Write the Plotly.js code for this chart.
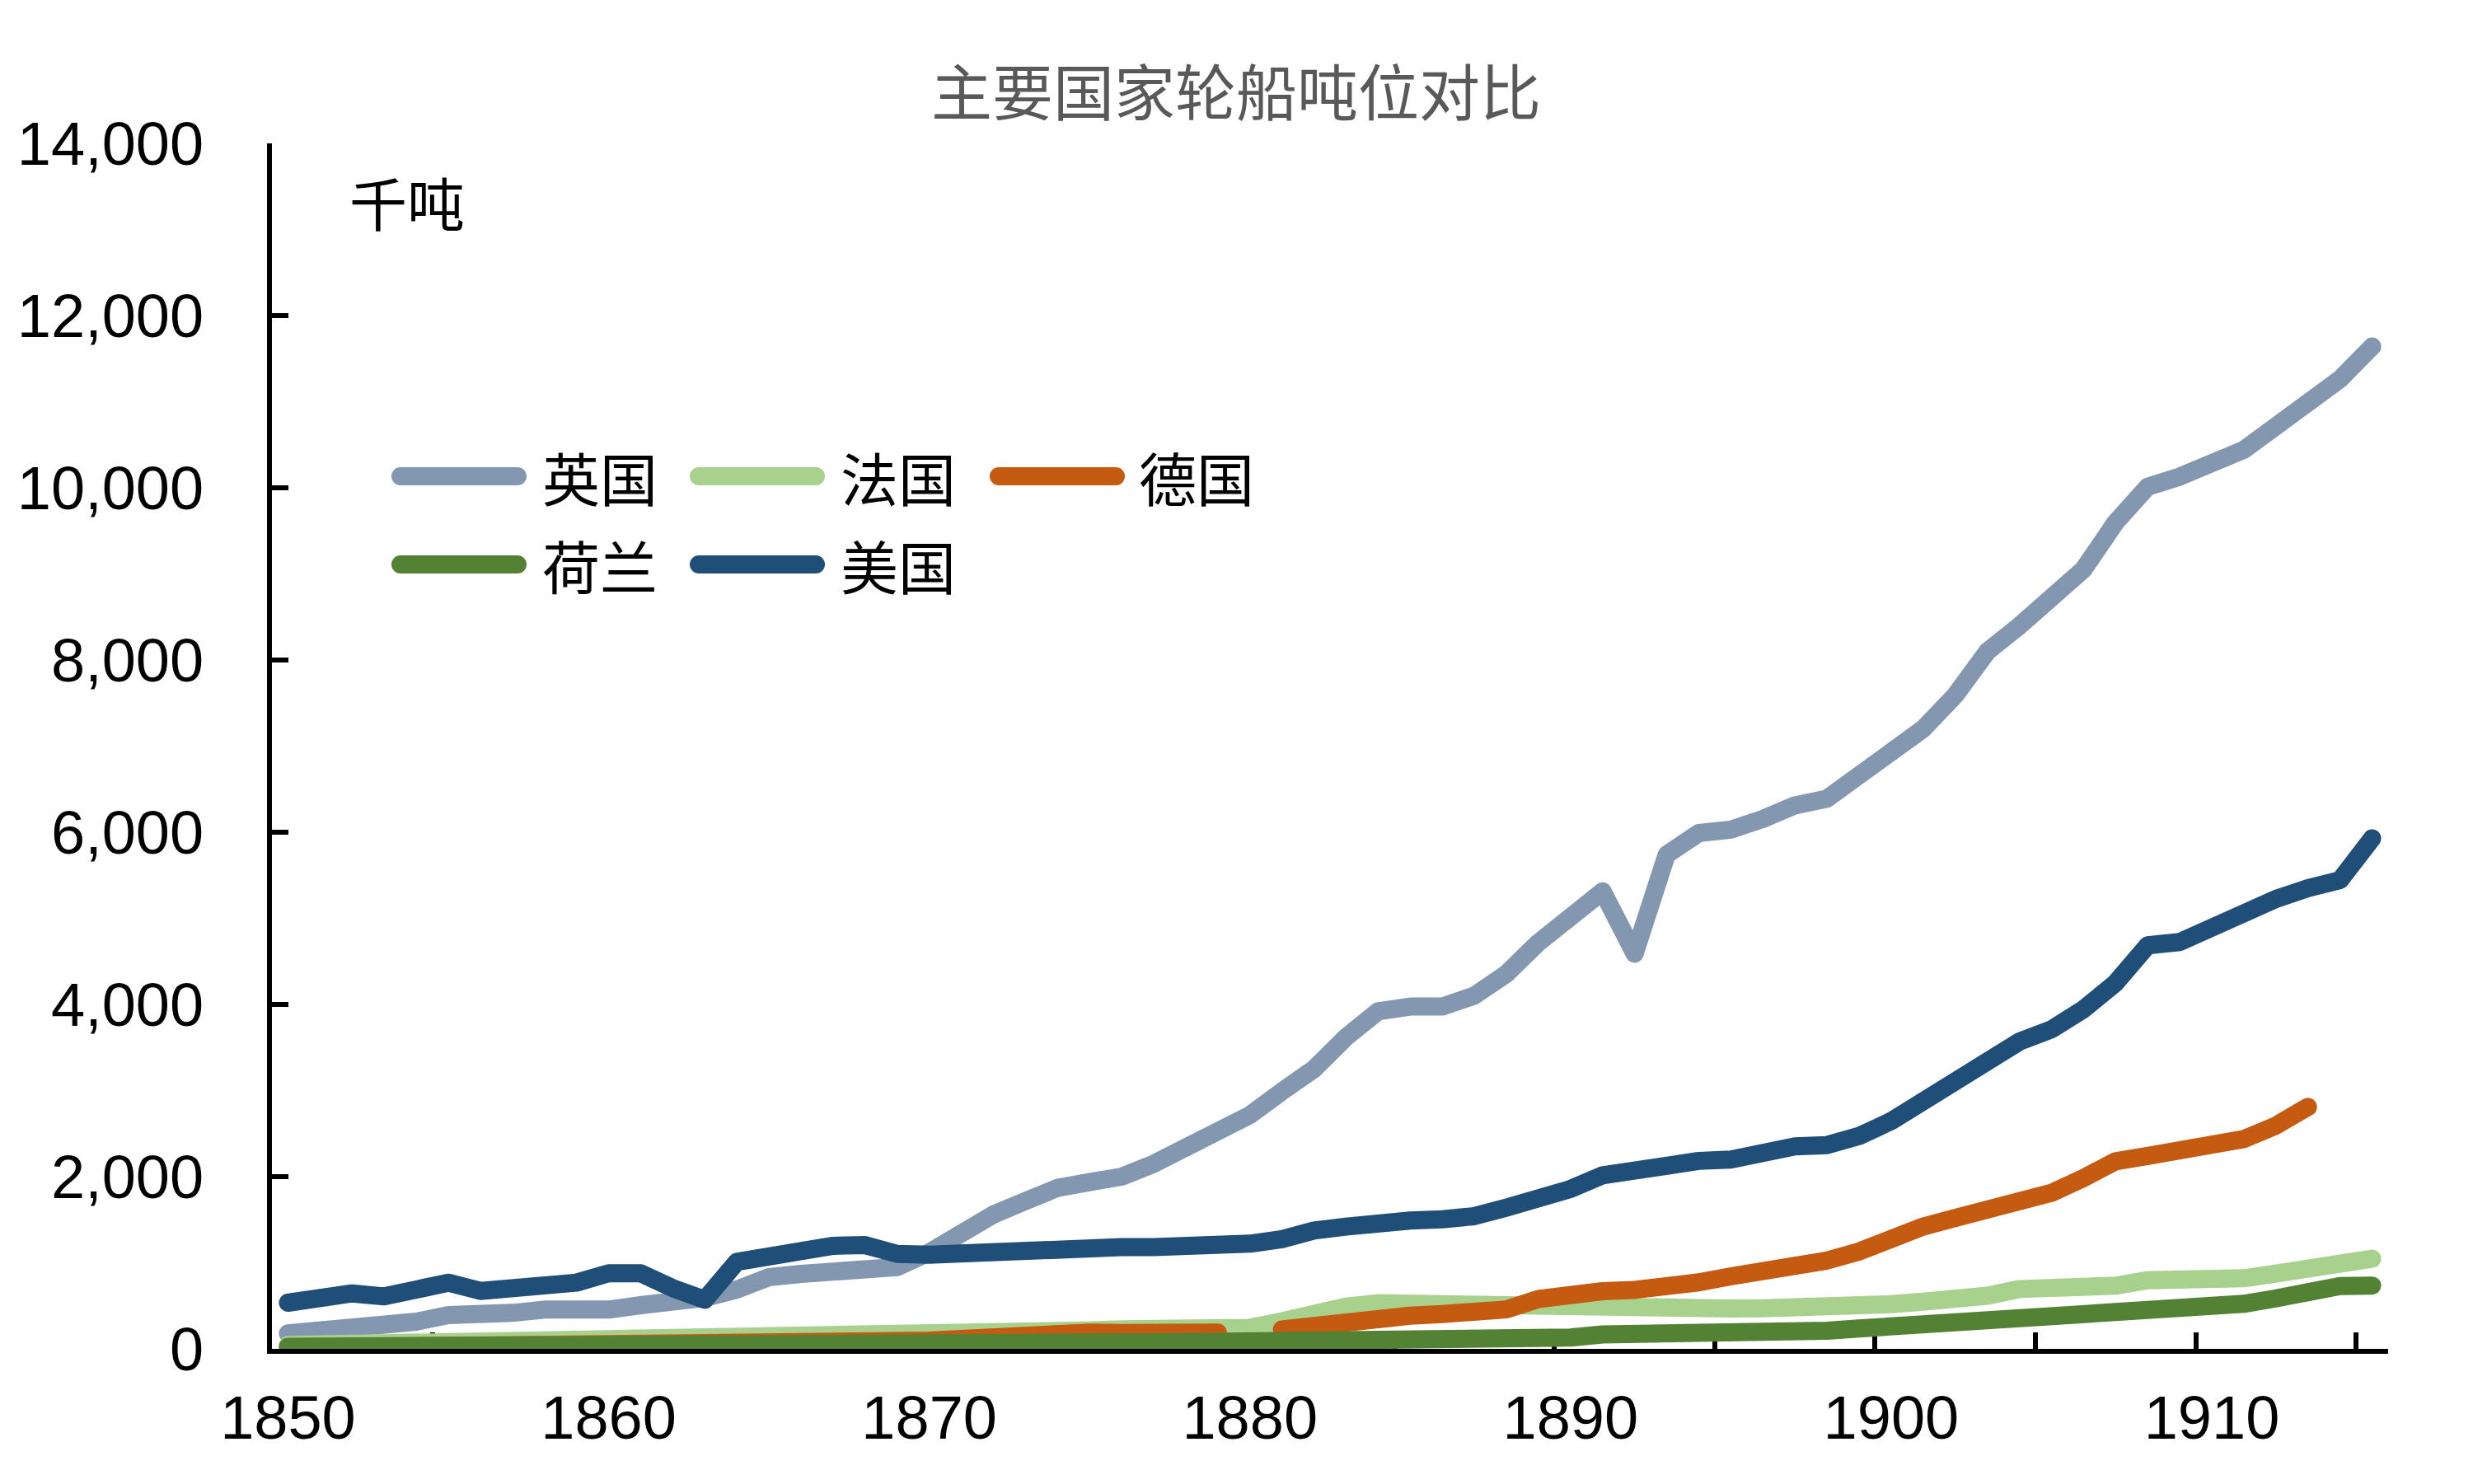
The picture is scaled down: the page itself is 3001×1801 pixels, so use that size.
<!DOCTYPE html>
<html>
<head>
<meta charset="utf-8">
<script src="https://cdn.plot.ly/plotly-3.0.1.min.js"></script>
<style>
  body { margin: 0; padding: 0; background: #fff; }
  .scatterlayer .js-line { stroke-linecap: round !important; stroke-linejoin: round !important; }
  .shapelayer path { stroke-linecap: round !important; }
</style>
</head>
<body>
<div id="chart" style="width:3001px;height:1801px;"></div>
<script>
// ---- data ----
const years = [];
for (let y = 1850; y <= 1915; y++) years.push(y);

const uk = [179,201,227,255,316,392,392,418,456,434,
            456,507,539,593,689,833,871,900,910,950,
            1120,1340,1560,1716,1869,1937,2000,2149,2329,2516,
            2715,2990,3250,3620,3920,3975,3975,4103,4355,4718,
            5034,5313,4590,5740,5990,6030,6154,6312,6391,6654,
            6930,7201,7591,8099,8396,8739,9052,9598,10012,10130,
            10270,10442,10715,11004,11262,11640];
const france = [45,50,55,60,68,75,80,85,88,90,
                92,95,100,105,110,118,130,140,150,155,
                160,170,180,195,205,215,228,238,248,265,
                245,320,430,490,530,520,530,540,540,530,
                510,500,488,478,470,470,472,472,474,484,
                520,547,562,617,695,703,719,734,797,797,
                804,820,875,945,1015,1047];
const germany = [15,17,20,22,25,28,30,35,38,38,
                 40,42,44,48,52,58,65,72,80,88,
                 95,115,145,175,190,190,185,185,185,190,
                 null,225,270,340,370,385,405,421,458,579,
                 640,670,685,715,773,842,894,973,1026,1131,
                 1300,1420,1520,1632,1695,1812,1984,2179,2241,2296,
                 2335,2437,2593,2810,null,null];
const netherlands = [25,25,26,26,27,27,28,28,29,29,
                     30,30,31,32,33,35,38,42,45,48,
                     50,55,60,65,70,75,76,77,78,80,
                     80,85,92,100,105,110,112,105,110,116,
                     131,168,170,174,184,186,195,200,210,237,
                     260,305,336,344,346,367,390,406,430,469,
                     492,523,586,664,730,735];
const usa = [536,590,644,609,686,769,673,711,737,769,
             878,878,705,570,1010,1072,1088,1197,1205,1103,
             1093,1110,1127,1171,1198,1181,1181,1181,1181,1185,
             1222,1273,1375,1420,1471,1490,1505,1541,1641,1746,
             1857,2015,2078,2172,2183,2199,2299,2351,2367,2472,
             2645,2866,3101,3358,3569,3710,3944,4249,4686,4725,
             4897,5092,5225,5350,5444,5928];

const seriesNames = ['英国', '法国', '德国', '荷兰', '美国'];
const seriesValues = [uk, france, germany, netherlands, usa];
const seriesColors = ['#8497B0', '#A9D18E', '#C55A11', '#548235', '#1F4E79'];

const xTickVals = [1850, 1860, 1870, 1880, 1890, 1900, 1910];
const xTickText = ['1850', '1860', '1870', '1880', '1890', '1900', '1910'];
const xMinorTicks = [1854.5, 1859.5, 1864.5, 1869.5, 1874.5, 1879.5, 1884.5, 1889.5, 1894.5, 1899.5, 1904.5, 1909.5, 1914.5];
const yTickVals = [0, 2000, 4000, 6000, 8000, 10000, 12000, 14000];

const titleText = '主要国家轮船吨位对比';
const unitText = '千吨';

// ---- layout geometry ----
const W = 3001, H = 1801;
const plotL = 330, plotR = 2898, plotT = 174, plotB = 1637;
const px2x = p => (p - plotL) / (plotR - plotL);
const py2y = p => (plotB - p) / (plotB - plotT);

const traces = seriesNames.map((n, i) => ({
  type: 'scatter', mode: 'lines', name: n,
  x: years, y: seriesValues[i],
  line: { color: seriesColors[i], width: 22 },
  connectgaps: false, hoverinfo: 'skip'
}));

// manual legend (order: 英国 法国 德国 / 荷兰 美国)
const legendSlots = [
  { line: [486, 628], text: 656, row: 578 },
  { line: [848, 990], text: 1018, row: 578 },
  { line: [1212, 1354], text: 1380, row: 578 },
  { line: [486, 628], text: 656, row: 685 },
  { line: [848, 990], text: 1018, row: 685 }
];
const shapes = [];
const annotations = [];
legendSlots.forEach((s, i) => {
  shapes.push({
    type: 'line', xref: 'paper', yref: 'paper',
    x0: px2x(s.line[0]), x1: px2x(s.line[1]),
    y0: py2y(s.row), y1: py2y(s.row),
    line: { color: seriesColors[i], width: 22 }
  });
  annotations.push({
    xref: 'paper', yref: 'paper', x: px2x(s.text), y: py2y(s.row),
    xanchor: 'left', yanchor: 'middle', showarrow: false,
    text: seriesNames[i],
    font: { family: 'Noto Sans CJK SC', size: 70, color: '#000000' }
  });
});
annotations.push({
  xref: 'paper', yref: 'paper', x: px2x(422), y: py2y(245),
  xanchor: 'left', yanchor: 'middle', showarrow: false,
  text: unitText,
  font: { family: 'Noto Sans CJK SC', size: 70, color: '#000000' }
});

const layout = {
  width: W, height: H,
  paper_bgcolor: '#ffffff', plot_bgcolor: '#ffffff',
  margin: { l: plotL, r: W - plotR, t: plotT, b: H - plotB, pad: 0 },
  showlegend: false,
  title: {
    text: titleText,
    font: { family: 'Noto Sans CJK SC', size: 74, color: '#595959' },
    x: 1500 / W, xref: 'container', xanchor: 'center',
    y: 1 - 114 / H, yref: 'container', yanchor: 'middle'
  },
  xaxis: {
    range: [1849.5, 1915.5], tickmode: 'array', tickvals: xTickVals, ticktext: xTickText,
    ticks: '', showline: true, linecolor: '#000000', linewidth: 6,
    showgrid: false, zeroline: false, layer: 'below traces',
    tickfont: { family: 'Liberation Sans, Arial, sans-serif', size: 74, color: '#000000' },
    ticklabelstandoff: 14,
    minor: { tickmode: 'array', tickvals: xMinorTicks, ticks: 'inside', ticklen: 20, tickwidth: 6, tickcolor: '#000000', showgrid: false }
  },
  yaxis: {
    range: [0, 14000], tickmode: 'array', tickvals: yTickVals, tickformat: ',d',
    ticks: 'inside', ticklen: 20, tickwidth: 6, tickcolor: '#000000',
    showline: true, linecolor: '#000000', linewidth: 6,
    showgrid: false, zeroline: false, layer: 'below traces',
    tickfont: { family: 'Liberation Sans, Arial, sans-serif', size: 74, color: '#000000' },
    ticklabelstandoff: 62
  },
  shapes: shapes,
  annotations: annotations
};

Plotly.newPlot('chart', traces, layout, { staticPlot: true, displayModeBar: false });
</script>
</body>
</html>
